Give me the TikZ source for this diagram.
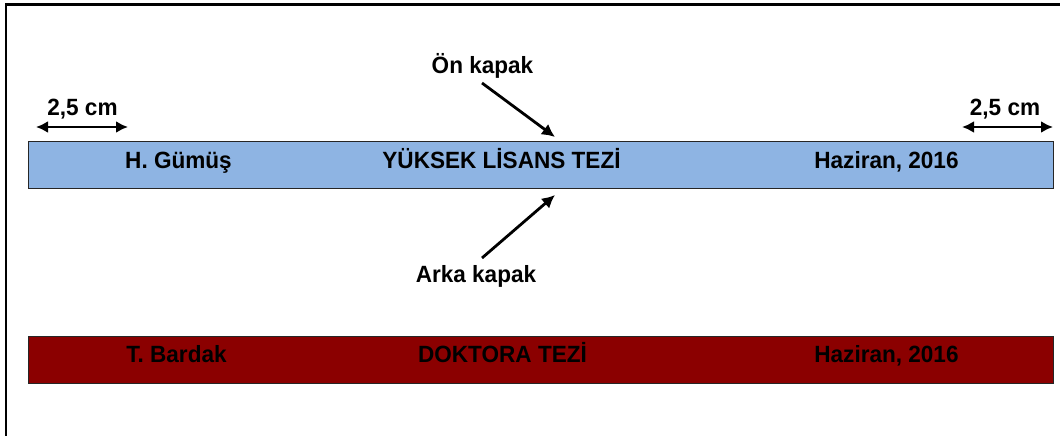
\documentclass[tikz,border=0pt]{standalone}
\usepackage{fontspec}
\setmainfont{Liberation Sans}
\newfontfamily\lbfont[FakeStretch=0.96]{Liberation Sans}
\usetikzlibrary{arrows.meta}
\definecolor{barblue}{RGB}{142,180,227}
\definecolor{barred}{RGB}{139,0,0}
\begin{document}
\begin{tikzpicture}[x=1pt,y=-1pt,
  lbl/.style={font=\lbfont\fontsize{23.5}{27}\selectfont\bfseries, inner sep=0pt, anchor=base, text=black},
  bar/.style={draw=black!85, line width=1.3pt, anchor=north west, minimum width=1024.5pt, minimum height=47pt, inner sep=0pt},
  pointer/.style={line width=2.8pt, -{Latex[length=13pt,width=13pt]}},
  dim/.style={line width=2.6pt, {Latex[length=12pt,width=12pt]}-{Latex[length=12pt,width=12pt]}}]
\useasboundingbox (0,0) rectangle (1060,436);
% frame
\draw[line width=2.6pt] (6,436) -- (6,4.5) -- (1060,4.5);
% bars
\node[bar, fill=barblue] (blue) at (28,141) {};
\node[bar, fill=barred] (red) at (28,336) {};
% blue bar texts
\node[lbl] (hg) at (178.5,168) {H. Gümüş};
\node[lbl] (yl) at (501.5,168) {YÜKSEK LİSANS TEZİ};
\node[lbl] (hz1) at (886.5,168) {Haziran, 2016};
% red bar texts
\node[lbl] (tb) at (176.5,362) {T. Bardak};
\node[lbl] (dt) at (502.5,362) {DOKTORA TEZİ};
\node[lbl] (hz2) at (886.5,362) {Haziran, 2016};
% dimension labels
\node[lbl] (dl) at (82.5,115) {2,5 cm};
\node[lbl] (dr) at (1005,115) {2,5 cm};
\coordinate (dlA) at (36,127);
\coordinate (dlB) at (128,127);
\coordinate (drA) at (962,127);
\coordinate (drB) at (1053,127);
\draw[dim] (dlA) -- (dlB);
\draw[dim] (drA) -- (drB);
% pointers
\node[lbl] (on) at (482.5,74) {Ön kapak};
\node[lbl] (ar) at (476,282) {Arka kapak};
\coordinate (onA) at (482,83);
\coordinate (onB) at (555,137);
\coordinate (arA) at (482,258);
\coordinate (arB) at (555,195);
\draw[pointer] (onA) -- (onB);
\draw[pointer] (arA) -- (arB);
\end{tikzpicture}
\end{document}
